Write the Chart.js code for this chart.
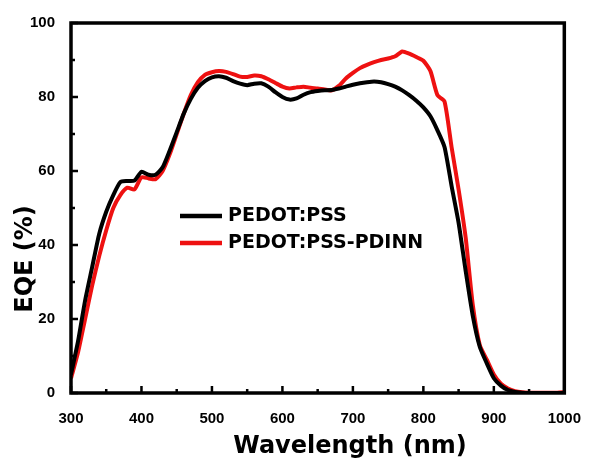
<!DOCTYPE html>
<html>
<head>
<meta charset="utf-8">
<script src="https://cdn.jsdelivr.net/npm/chart.js@4/dist/chart.umd.min.js"></script>
<style>
  html, body { margin: 0; padding: 0; background: #fff; }
  #wrap { width: 590px; height: 464px; }
</style>
</head>
<body>
<div id="wrap"><canvas id="stage"></canvas></div>
<script>
// wavelength in nm, EQE in %
const wavelengths = [300,310,320,330,340,350,360,370,380,390,400,410,420,430,440,450,460,470,480,490,
  500,510,520,530,540,550,560,570,580,590,600,610,620,630,640,650,660,670,680,690,
  700,710,720,730,740,750,760,770,780,790,800,810,820,830,840,850,860,870,880,890,
  900,910,920,930,940,950,960,970,980,990,1000];
const eqePss = [5,14,25,34,43,49,53.5,57,57.3,57.4,59.8,59,59,61,65.5,70.5,75.5,79.5,82.5,84.3,
  85.3,85.6,85.2,84.3,83.6,83.2,83.6,83.7,82.8,81.3,80,79.3,79.6,80.6,81.3,81.6,81.8,81.9,82.3,82.8,
  83.3,83.7,84,84.2,84,83.5,82.8,81.8,80.5,79,77.2,74.8,71,66.5,56,46,33,21,12.5,8,
  4,2,0.8,0.3,0.1,0,0,0,0,0,0];
const eqePdinn = [4,11,20,29,37,44,50,53.5,55.5,55,58.3,58,57.8,60,64.5,70,75.5,80.5,84,86,
  86.7,87,86.8,86.2,85.5,85.4,85.8,85.6,84.8,83.8,82.8,82.3,82.6,82.8,82.5,82.3,82,81.8,83,85,
  86.5,87.8,88.7,89.4,90,90.4,91,92.3,91.7,90.8,89.8,87,80.5,78.8,66.5,55,42,24,13,9,
  5,2.5,1.2,0.5,0.2,0.1,0.1,0.1,0.1,0.1,0.2];
const seriesNames = ['PEDOT:PSS', 'PEDOT:PSS-PDINN'];
const seriesColors = ['#000000', '#ee1111'];
const xTicks = [300,400,500,600,700,800,900,1000];
const yTicks = [0,20,40,60,80,100];

const tickFont = { family: '"Liberation Sans", Arial, sans-serif', size: 15, weight: 'bold' };

// 内向きの目盛り・枠・凡例・軸タイトル
const framePlugin = {
  id: 'frame',
  afterDraw(chart) {
    const ctx = chart.ctx;
    const a = chart.chartArea;
    const xs = chart.scales.x, ys = chart.scales.y;
    ctx.save();
    ctx.strokeStyle = '#000';
    ctx.lineWidth = 2.5;
    ctx.beginPath();
    for (let v = 300; v <= 1000; v += 50) {
      const px = xs.getPixelForValue(v);
      const len = (v % 100 === 0) ? 7 : 4;
      ctx.moveTo(px, a.bottom);
      ctx.lineTo(px, a.bottom - len);
    }
    for (let v = 0; v <= 100; v += 10) {
      const py = ys.getPixelForValue(v);
      const len = (v % 20 === 0) ? 7 : 4;
      ctx.moveTo(a.left, py);
      ctx.lineTo(a.left + len, py);
    }
    ctx.stroke();
    ctx.lineWidth = 3.5;
    ctx.strokeRect(a.left, a.top, a.right - a.left, a.bottom - a.top);

    // legend
    ctx.font = 'bold 19px "DejaVu Sans", sans-serif';
    ctx.textBaseline = 'middle';
    ctx.textAlign = 'left';
    const legY = [216, 243];
    for (let i = 0; i < seriesNames.length; i++) {
      ctx.strokeStyle = seriesColors[i];
      ctx.lineWidth = 4.5;
      ctx.beginPath();
      ctx.moveTo(180, legY[i]);
      ctx.lineTo(222, legY[i]);
      ctx.stroke();
      ctx.fillStyle = '#000';
      ctx.fillText(seriesNames[i], 228, legY[i]);
    }

    // axis titles
    ctx.font = 'bold 24px "DejaVu Sans", sans-serif';
    ctx.textAlign = 'center';
    ctx.textBaseline = 'alphabetic';
    ctx.fillText('Wavelength (nm)', 350, 453);
    ctx.translate(32, 259);
    ctx.rotate(-Math.PI / 2);
    ctx.fillText('EQE (%)', 0, 0);
    ctx.restore();
  }
};

new Chart(document.getElementById('stage'), {
  type: 'line',
  data: {
    datasets: [
      {
        label: seriesNames[0],
        data: wavelengths.map((w, i) => ({ x: w, y: eqePss[i] })),
        borderColor: seriesColors[0],
        borderWidth: 4,
        pointRadius: 0,
        tension: 0.2
      },
      {
        label: seriesNames[1],
        data: wavelengths.map((w, i) => ({ x: w, y: eqePdinn[i] })),
        borderColor: seriesColors[1],
        borderWidth: 4,
        pointRadius: 0,
        tension: 0.2
      }
    ]
  },
  options: {
    responsive: true,
    maintainAspectRatio: false,
    animation: false,
    layout: { padding: { left: 0, right: 20, top: 23, bottom: 0 } },
    plugins: {
      legend: { display: false },
      tooltip: { enabled: false }
    },
    scales: {
      x: {
        type: 'linear',
        min: 300,
        max: 1000,
        afterBuildTicks: s => { s.ticks = xTicks.map(v => ({ value: v })); },
        afterFit: s => { s.height = 71; },
        grid: { display: false },
        border: { display: false },
        ticks: { font: tickFont, color: '#000', padding: 9, maxRotation: 0, callback: v => String(v) }
      },
      y: {
        min: 0,
        max: 100,
        afterBuildTicks: s => { s.ticks = yTicks.map(v => ({ value: v })); },
        afterFit: s => { s.width = 71; },
        grid: { display: false },
        border: { display: false },
        ticks: { font: tickFont, color: '#000', padding: 8, callback: v => String(v) }
      }
    }
  },
  plugins: [framePlugin]
});
</script>
</body>
</html>
